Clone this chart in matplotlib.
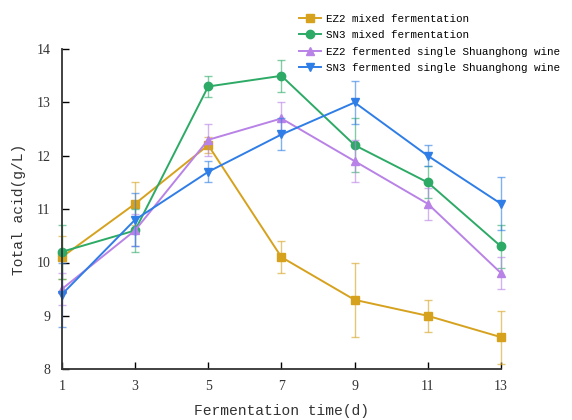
import matplotlib.pyplot as plt

days = [1, 3, 5, 7, 9, 11, 13]

ez2_mixed = [10.1, 11.1, 12.2, 10.1, 9.3, 9.0, 8.6]
ez2_mixed_err = [0.4, 0.4, 0.15, 0.3, 0.7, 0.3, 0.5]
sn3_mixed = [10.2, 10.6, 13.3, 13.5, 12.2, 11.5, 10.3]
sn3_mixed_err = [0.5, 0.4, 0.2, 0.3, 0.5, 0.3, 0.4]
ez2_single = [9.5, 10.6, 12.3, 12.7, 11.9, 11.1, 9.8]
ez2_single_err = [0.3, 0.3, 0.3, 0.3, 0.4, 0.3, 0.3]
sn3_single = [9.4, 10.8, 11.7, 12.4, 13.0, 12.0, 11.1]
sn3_single_err = [0.6, 0.5, 0.2, 0.3, 0.4, 0.2, 0.5]

series = [
    ("EZ2 mixed fermentation", ez2_mixed, ez2_mixed_err, "#d6a21e", "s"),
    ("SN3 mixed fermentation", sn3_mixed, sn3_mixed_err, "#2daa66", "o"),
    ("EZ2 fermented single Shuanghong wine", ez2_single, ez2_single_err, "#b882e6", "^"),
    ("SN3 fermented single Shuanghong wine", sn3_single, sn3_single_err, "#2f7de6", "v"),
]

fig = plt.figure(figsize=(5.72, 4.2), dpi=100)
ax = fig.add_axes([0.108, 0.121, 0.768, 0.762])

handles = []
for label, vals, err, color, marker in series:
    eb = ax.errorbar(days, vals, yerr=err, fmt="none", ecolor=color, alpha=0.6,
                     elinewidth=1, capsize=3)
    for art in eb.lines[1] + eb.lines[2]:
        art.set_clip_on(False)
    h, = ax.plot(days, vals, color=color, marker=marker, markersize=6,
                 linewidth=1.4, label=label, clip_on=False)
    handles.append(h)

ax.set_xlim(1, 13)
ax.set_ylim(8, 14)
ax.set_xticks(days)
ax.set_yticks(range(8, 15))
ax.spines["top"].set_visible(False)
ax.spines["right"].set_visible(False)
for s in ("left", "bottom"):
    ax.spines[s].set_linewidth(1.3)
    ax.spines[s].set_color("#333333")
ax.tick_params(direction="in", length=5, width=1, pad=8, labelsize=10)
for t in ax.get_xticklabels() + ax.get_yticklabels():
    t.set_family("Liberation Serif")
    t.set_color("#333333")

ax.set_xlabel("Fermentation time(d)", family="Liberation Mono", fontsize=10.5,
              color="#333333", labelpad=8)
ax.set_ylabel("Total acid(g/L)", family="Liberation Mono", fontsize=10.5,
              color="#333333", labelpad=8)

fig.legend(handles=handles, loc="upper left", bbox_to_anchor=(0.515, 0.978),
           frameon=False, prop={"family": "Liberation Mono", "size": 7.8},
           handlelength=2.0, handletextpad=0.5, labelspacing=0.6,
           borderaxespad=0)

fig.savefig("out.png", dpi=100)
